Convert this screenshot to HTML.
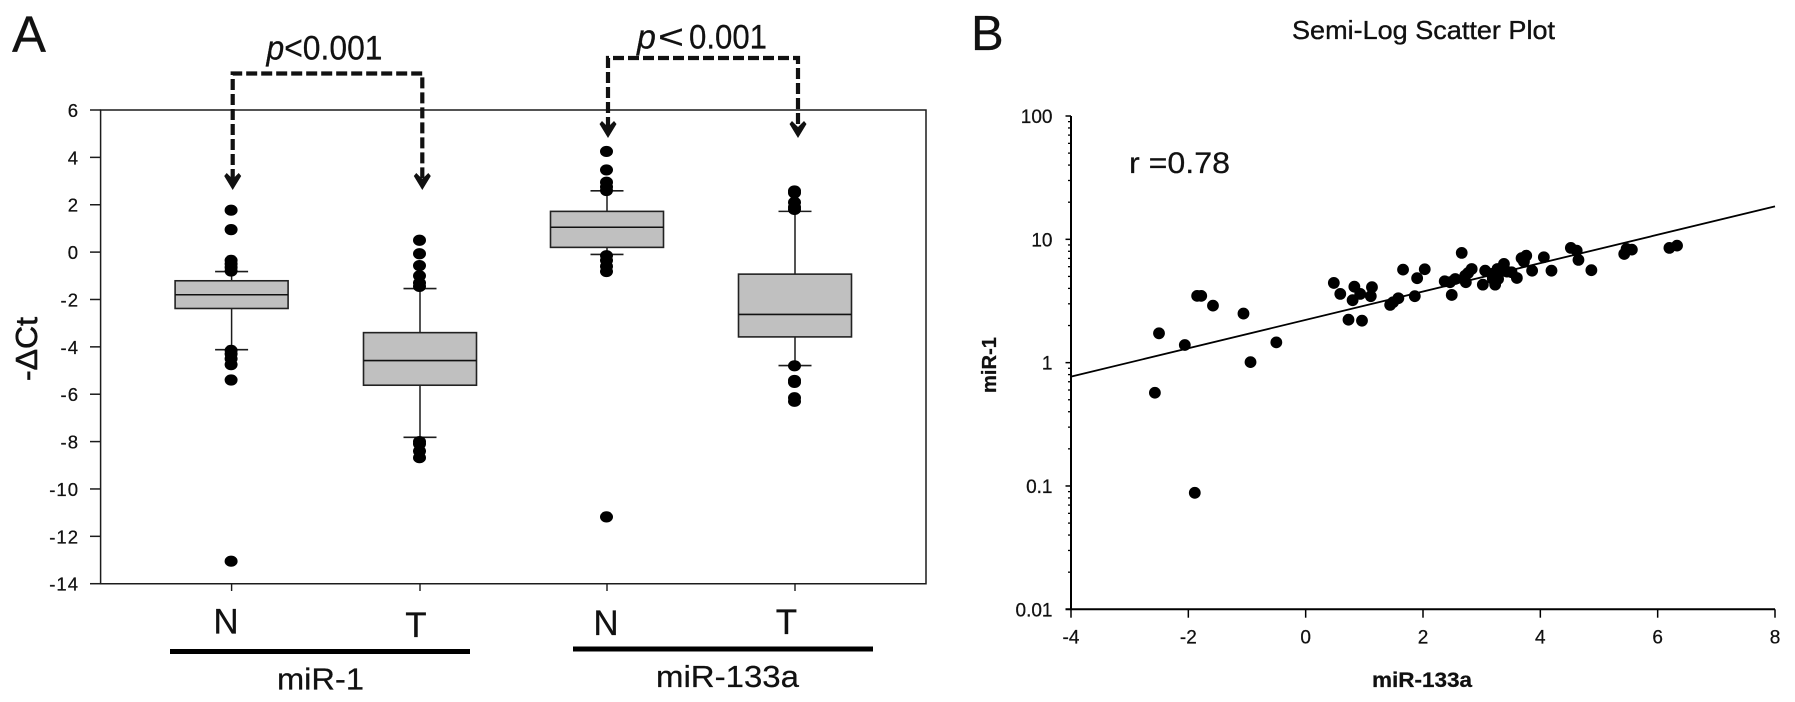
<!DOCTYPE html>
<html lang="en">
<head>
<meta charset="utf-8">
<title>miR-1 and miR-133a box plot and semi-log scatter plot</title>
<style>
html,body{margin:0;padding:0;background:#fff;width:1795px;height:702px;overflow:hidden}
svg{display:block;filter:blur(0.35px)}
text{font-family:"Liberation Sans",sans-serif;fill:#111;stroke:#111;stroke-width:0.25}
</style>
</head>
<body>
<svg id="fig" xmlns="http://www.w3.org/2000/svg" width="1795" height="702" viewBox="0 0 1795 702">
  <rect x="0" y="0" width="1795" height="702" fill="#ffffff"/>

  <text x="12" y="52" font-size="51">A</text>
  <text x="971" y="50" font-size="49">B</text>

  <g id="panelA"></g>
  <g id="panelB"></g>

  <text x="266.5" y="59.3" font-size="34" textLength="116" lengthAdjust="spacingAndGlyphs"><tspan font-style="italic">p</tspan>&lt;0.001</text>
  <text x="637" y="48.3" font-size="34" font-style="italic">p</text>
  <text x="658" y="48.3" font-size="34" textLength="26" lengthAdjust="spacingAndGlyphs">&lt;</text>
  <text x="689" y="48.3" font-size="34" textLength="78" lengthAdjust="spacingAndGlyphs">0.001</text>

  <text transform="translate(37,381) rotate(-90)" font-size="31" textLength="64" lengthAdjust="spacingAndGlyphs" style="stroke-width:0.6">-ΔCt</text>

  <rect x="170" y="649" width="300" height="5" fill="#000"/>
  <rect x="573" y="646.5" width="300" height="5" fill="#000"/>
  <text x="277" y="689.3" font-size="31" textLength="87" lengthAdjust="spacingAndGlyphs">miR-1</text>
  <text x="656" y="687" font-size="31" textLength="143" lengthAdjust="spacingAndGlyphs">miR-133a</text>

  <text x="1292" y="39" font-size="26" textLength="263" lengthAdjust="spacingAndGlyphs" style="stroke-width:0.35">Semi-Log Scatter Plot</text>
  <text x="1129" y="173" font-size="30" textLength="101" lengthAdjust="spacingAndGlyphs">r =0.78</text>
  <text x="1372" y="687" font-size="21" font-weight="bold" textLength="100" lengthAdjust="spacingAndGlyphs">miR-133a</text>
  <text transform="translate(996,393) rotate(-90)" font-size="20" font-weight="bold" textLength="56" lengthAdjust="spacingAndGlyphs">miR-1</text>
</svg>

<script>
/* ---------- Panel A data ---------- */
const boxCategories = ['N', 'T', 'N', 'T'];
const boxQ1 = [-2.38, -5.62, 0.2, -3.58];
const boxMedian = [-1.8, -4.58, 1.05, -2.63];
const boxQ3 = [-1.21, -3.4, 1.72, -0.93];
const boxWhiskerLow = [-4.12, -7.82, -0.1, -4.79];
const boxWhiskerHigh = [-0.82, -1.54, 2.59, 1.72];
const boxOutliers = [
  [1.77, 0.95, -0.35, -0.5, -0.65, -0.8, -4.15, -4.3, -4.5, -4.75, -5.4, -13.05],
  [0.5, -0.07, -0.57, -1.0, -1.3, -1.45, -8.0, -8.1, -8.4, -8.68],
  [4.25, 3.47, 2.95, 2.75, 2.6, -0.15, -0.35, -0.6, -0.82, -11.18],
  [2.58, 2.5, 2.1, 1.9, 1.8, -4.8, -5.42, -5.5, -6.15, -6.3]
];
const boxYTicks = [6, 4, 2, 0, -2, -4, -6, -8, -10, -12, -14];

/* ---------- Panel B data ---------- */
const scatterX = [-2.5, -2.06, -1.85, -1.78, -1.58, -1.06, -0.5, -0.94, -2.57, -1.89, 0.48, 0.59, 0.83, 0.93, 0.8, 0.73, 0.96, 1.13, 1.11, 1.66, 2.03, 1.9, 1.86, 1.44, 1.49, 1.58, 2.37, 2.49, 2.46, 2.55, 2.66, 2.73, 2.72, 2.83, 2.77, 3.02, 3.06, 3.23, 3.17, 3.28, 3.27, 3.38, 3.43, 3.51, 3.6, 3.68, 3.76, 3.72, 3.86, 4.06, 4.19, 4.52, 4.62, 4.65, 4.87, 5.43, 5.47, 5.56, 6.2, 6.33, 3.19, 3.31];
const scatterY = [1.73, 1.39, 3.48, 3.48, 2.9, 2.5, 1.46, 1.01, 0.57, 0.088, 4.43, 3.61, 4.13, 3.61, 3.21, 2.23, 2.19, 4.09, 3.46, 5.68, 5.72, 4.84, 3.46, 2.94, 3.09, 3.33, 4.57, 3.54, 4.49, 4.77, 7.76, 4.49, 5.08, 5.75, 5.34, 4.29, 5.57, 4.29, 5.24, 4.77, 5.75, 6.32, 5.47, 5.41, 4.86, 7.03, 7.37, 6.6, 5.57, 7.16, 5.57, 8.52, 8.1, 6.81, 5.62, 7.61, 8.36, 8.25, 8.52, 8.89, 4.77, 5.41];
const fitX = [-4, 8];
const fitY = [0.77, 18.5];
const scatterXTicks = [-4, -2, 0, 2, 4, 6, 8];
const scatterYTicks = [100, 10, 1, 0.1, 0.01];
const minorMultipliers = [2, 3, 4, 5, 6, 7, 8, 9];

/* ---------- Scales ---------- */
const NS = 'http://www.w3.org/2000/svg';
const A = { left: 100.6, right: 926, top: 110, bottom: 583.7, vMax: 6, vMin: -14 };
const aCenters = [231.6, 420, 607, 795];
const aLabelX = [226, 416, 606, 786.5];
const aLabelY = [633.5, 637, 635, 634];
const B = { left: 1071, right: 1775, top: 116, bottom: 609.3, xMin: -4, xMax: 8, logMax: 2, logMin: -2 };

function yA(v) { return A.top + (A.vMax - v) * (A.bottom - A.top) / (A.vMax - A.vMin); }
function xB(v) { return B.left + (v - B.xMin) * (B.right - B.left) / (B.xMax - B.xMin); }
function yB(v) { return B.top + (B.logMax - Math.log10(v)) * (B.bottom - B.top) / (B.logMax - B.logMin); }

function mk(tag, attrs, parent) {
  const el = document.createElementNS(NS, tag);
  for (const k in attrs) el.setAttribute(k, attrs[k]);
  parent.appendChild(el);
  return el;
}

/* ---------- Panel A ---------- */
const gA = document.getElementById('panelA');
const AXIS = '#1c1c1c';
let el;

el = mk('path', { d: `M${A.left} ${A.top}H${A.right}V${A.bottom}H${A.left}Z`, fill: 'none', stroke: AXIS, 'stroke-width': 1.5 }, gA);



boxYTicks.forEach(function (t) {
  const y = yA(t);
  const tick = mk('line', { x1: 90, x2: A.left, y1: y, y2: y, stroke: AXIS, 'stroke-width': 1.5 }, gA);
  
  
  const label = mk('text', { x: 79, y: y + 7, 'font-size': 18.5, 'text-anchor': 'end', 'letter-spacing': 1 }, gA);
  
  
  label.textContent = t;
});

boxCategories.forEach(function (cat, i) {
  const cx = aCenters[i];
  const halfBox = 56.5;
  const halfCap = 16.5;

  const xTick = mk('line', { x1: cx, x2: cx, y1: A.bottom, y2: 591, stroke: AXIS, 'stroke-width': 1.4 }, gA);
  
  

  const whisker = mk('line', { x1: cx, x2: cx, y1: yA(boxWhiskerHigh[i]), y2: yA(boxWhiskerLow[i]), stroke: AXIS, 'stroke-width': 1.5 }, gA);
  
  

  const capHigh = mk('line', { x1: cx - halfCap, x2: cx + halfCap, y1: yA(boxWhiskerHigh[i]), y2: yA(boxWhiskerHigh[i]), stroke: AXIS, 'stroke-width': 1.6 }, gA);
  
  

  const capLow = mk('line', { x1: cx - halfCap, x2: cx + halfCap, y1: yA(boxWhiskerLow[i]), y2: yA(boxWhiskerLow[i]), stroke: AXIS, 'stroke-width': 1.6 }, gA);
  
  

  const box = mk('rect', { x: cx - halfBox, y: yA(boxQ3[i]), width: halfBox * 2, height: yA(boxQ1[i]) - yA(boxQ3[i]), fill: '#c0c0c0', stroke: '#222', 'stroke-width': 1.6 }, gA);
  
  

  const median = mk('line', { x1: cx - halfBox, x2: cx + halfBox, y1: yA(boxMedian[i]), y2: yA(boxMedian[i]), stroke: '#111', 'stroke-width': 1.6 }, gA);
  
  

  boxOutliers[i].forEach(function (v) {
    const dot = mk('ellipse', { cx: cx - 0.5, cy: yA(v), rx: 6.5, ry: 5.6, fill: '#000' }, gA);
    
    
  });

  const label = mk('text', { x: aLabelX[i], y: aLabelY[i], 'font-size': 35, 'text-anchor': 'middle' }, gA);
  
  
  label.textContent = cat;
});

/* significance brackets */
const brackets = [
  { l: 232.7, r: 422.3, y: 73.5, tip: 190 },
  { l: 608, r: 798, y: 58, tip: 138 }
];
brackets.forEach(function (b) {
  const line = mk('path', { d: `M${b.l} ${b.tip - 10}V${b.y}H${b.r}V${b.tip - 10}`, fill: 'none', stroke: '#111', 'stroke-width': 4.2, 'stroke-dasharray': '11 4' }, gA);
  
  
  [b.l, b.r].forEach(function (x) {
    const head = mk('path', { d: `M${x - 8.5} ${b.tip - 14}L${x - 6} ${b.tip - 17}L${x} ${b.tip - 11}L${x + 6} ${b.tip - 17}L${x + 8.5} ${b.tip - 14}L${x} ${b.tip}Z`, fill: '#111' }, gA);
    
    
  });
});

/* ---------- Panel B ---------- */
const gB = document.getElementById('panelB');

el = mk('line', { x1: B.left, x2: B.left, y1: B.top, y2: B.bottom, stroke: '#000', 'stroke-width': 2 }, gB);



el = mk('line', { x1: B.left - 5.5, x2: B.right, y1: B.bottom, y2: B.bottom, stroke: '#000', 'stroke-width': 2 }, gB);



scatterYTicks.forEach(function (t, i) {
  const y = yB(t);
  const tick = mk('line', { x1: B.left - 5.5, x2: B.left, y1: y, y2: y, stroke: '#000', 'stroke-width': 1.5 }, gB);
  
  
  const label = mk('text', { x: 1052.5, y: y + 7, 'font-size': 19, 'text-anchor': 'end' }, gB);
  
  
  label.textContent = t;
  if (i < scatterYTicks.length - 1) {
    minorMultipliers.forEach(function (m) {
      const my = yB(t / 10 * m);
      const minor = mk('line', { x1: B.left - 3, x2: B.left, y1: my, y2: my, stroke: '#000', 'stroke-width': 1.3 }, gB);
      
      
    });
  }
});

scatterXTicks.forEach(function (t) {
  const x = xB(t);
  const tick = mk('line', { x1: x, x2: x, y1: B.bottom, y2: 617.7, stroke: '#000', 'stroke-width': 1.5 }, gB);
  
  
  const label = mk('text', { x: x, y: 643.7, 'font-size': 19, 'text-anchor': 'middle' }, gB);
  
  
  label.textContent = t;
});

el = mk('line', { x1: xB(fitX[0]), y1: yB(fitY[0]), x2: xB(fitX[1]), y2: yB(fitY[1]), stroke: '#000', 'stroke-width': 1.8 }, gB);



scatterX.forEach(function (x, i) {
  const dot = mk('circle', { cx: xB(x), cy: yB(scatterY[i]), r: 5.9, fill: '#000' }, gB);
  
  
});
</script>
</body>
</html>
